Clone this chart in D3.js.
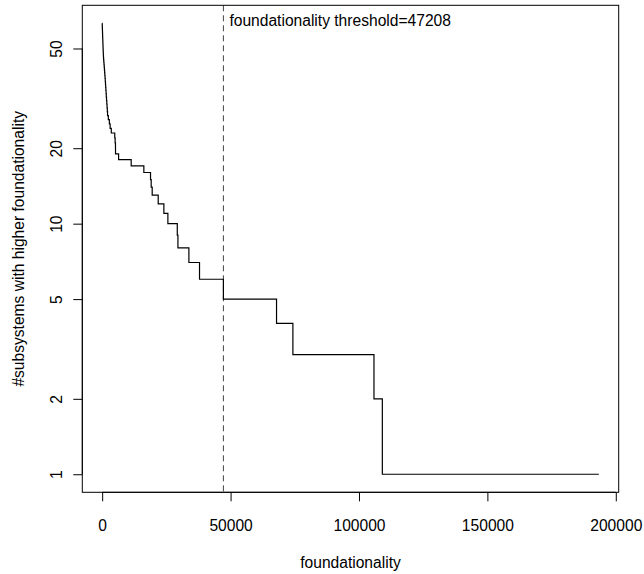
<!DOCTYPE html>
<html>
<head>
<meta charset="utf-8">
<script src="https://cdn.jsdelivr.net/npm/d3@7"></script>
<style>
  body { margin: 0; background: #fff; }
  svg text { font-family: "Liberation Sans", Arial, Helvetica, sans-serif; font-size: 15.6px; fill: #000; }
</style>
</head>
<body>
<svg id="chart" width="644" height="574"></svg>
<script>
// step curve: foundationality value where the count of higher subsystems drops
const foundationality = [
    0, 25, 50, 75, 100, 125, 150, 175, 200, 230, 260, 290, 320, 350, 380, 420,
    460, 500, 560, 640, 720, 800, 880, 960, 1040, 1120, 1200, 1280, 1360, 1440,
    1520, 1600, 1700, 1800, 1900, 2000, 2100, 2400, 2800, 3100, 3550,
    4900, 5050, 5180, 5200, 6400, 11300, 16230, 18830, 19090, 19480,
    21820, 24030, 25590, 29250, 29500, 33770, 37910, 47208,
    67900, 74270, 105840, 109100, 193400
];
const higherCount = [
    63, 62, 61, 60, 59, 58, 57, 56, 55, 54, 53, 52, 51, 50, 49, 48,
    47, 46, 45, 44, 43, 42, 41, 40, 39, 38, 37, 36, 35, 34,
    33, 32, 31, 30, 29, 28, 27, 26, 25, 24, 23,
    22, 21, 20, 19, 18, 17, 16, 15, 14, 13,
    12, 11, 10, 9, 8, 7, 6, 5,
    4, 3, 2, 1, 1
];
const xTicks = [0, 50000, 100000, 150000, 200000];
const yTicks = [1, 2, 5, 10, 20, 50];
const threshold = 47208;

const svg = d3.select('#chart');
const box = { left: 82.3, right: 618.7, top: 5.3, bottom: 492.3 };

// R style 4% padding around the data range
const xMin = d3.min(foundationality), xMax = d3.max(foundationality);
const xPad = (xMax - xMin) * 0.04;
const xScale = d3.scaleLinear()
    .domain([xMin - xPad, xMax + xPad])
    .range([box.left, box.right]);

const lyMin = Math.log10(d3.min(higherCount)), lyMax = Math.log10(d3.max(higherCount));
const lyPad = (lyMax - lyMin) * 0.04;
const yScale = d3.scaleLog()
    .domain([Math.pow(10, lyMin - lyPad), Math.pow(10, lyMax + lyPad)])
    .range([box.bottom, box.top]);

const points = foundationality.map((x, i) => ({ x, y: higherCount[i] }));

// threshold line
svg.append('line')
    .attr('x1', xScale(threshold)).attr('x2', xScale(threshold))
    .attr('y1', box.top).attr('y2', box.bottom)
    .attr('stroke', '#444')
    .attr('stroke-width', 1)
    .attr('stroke-dasharray', '6,4');

svg.append('text')
    .attr('x', xScale(threshold) + 6)
    .attr('y', 26)
    .text(`foundationality threshold=${threshold}`);

// step line
const line = d3.line()
    .x(d => xScale(d.x))
    .y(d => yScale(d.y))
    .curve(d3.curveStepAfter);

svg.append('path')
    .datum(points)
    .attr('d', line)
    .attr('fill', 'none')
    .attr('stroke', '#000')
    .attr('stroke-width', 1.2);

// plot box
svg.append('rect')
    .attr('x', box.left).attr('y', box.top)
    .attr('width', box.right - box.left).attr('height', box.bottom - box.top)
    .attr('fill', 'none')
    .attr('stroke', '#000')
    .attr('stroke-width', 1);

// x axis
const xAxis = svg.append('g')
    .attr('transform', `translate(0,${box.bottom})`)
    .call(d3.axisBottom(xScale).tickValues(xTicks).tickFormat(d3.format('d')).tickSize(9).tickPadding(19));
xAxis.select('.domain').remove();
xAxis.append('line')
    .attr('x1', xScale(xTicks[0])).attr('x2', xScale(xTicks[xTicks.length - 1]))
    .attr('stroke', '#000');
xAxis.attr('font-size', null).attr('font-family', null);

// y axis
const yAxis = svg.append('g')
    .attr('transform', `translate(${box.left},0)`)
    .call(d3.axisLeft(yScale).tickValues(yTicks).tickFormat(d3.format('d')).tickSize(9));
yAxis.select('.domain').remove();
yAxis.append('line')
    .attr('y1', yScale(yTicks[0])).attr('y2', yScale(yTicks[yTicks.length - 1]))
    .attr('stroke', '#000');
yAxis.attr('font-size', null).attr('font-family', null);
yAxis.selectAll('.tick text')
    .attr('x', null).attr('dy', null)
    .attr('text-anchor', 'middle')
    .attr('transform', 'translate(-20,0) rotate(-90)')
    .attr('y', 0);

// axis titles
svg.append('text')
    .attr('x', (box.left + box.right) / 2)
    .attr('y', 568)
    .attr('text-anchor', 'middle')
    .text('foundationality');

svg.append('text')
    .attr('transform', `translate(24,${(box.top + box.bottom) / 2}) rotate(-90)`)
    .attr('text-anchor', 'middle')
    .text('#subsystems with higher foundationality');
</script>
</body>
</html>
